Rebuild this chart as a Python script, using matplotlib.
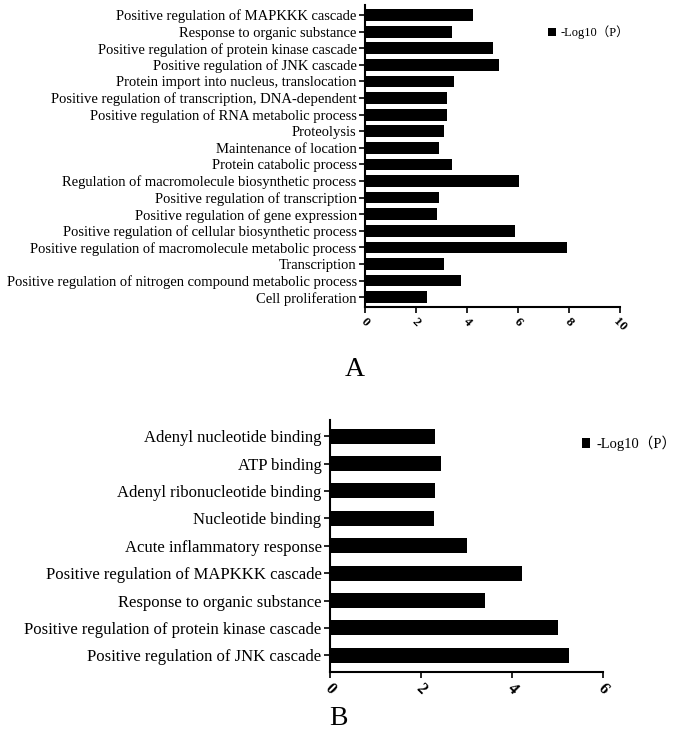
import matplotlib.pyplot as plt
import numpy as np

plt.rcParams['font.family'] = ['Liberation Serif', 'Noto Sans CJK SC']

# Panel A data (top to bottom)
terms_a = [
    'Positive regulation of MAPKKK cascade',
    'Response to organic substance',
    'Positive regulation of protein kinase cascade',
    'Positive regulation of JNK cascade',
    'Protein import into nucleus, translocation',
    'Positive regulation of transcription, DNA-dependent',
    'Positive regulation of RNA metabolic process',
    'Proteolysis',
    'Maintenance of location',
    'Protein catabolic process',
    'Regulation of macromolecule biosynthetic process',
    'Positive regulation of transcription',
    'Positive regulation of gene expression',
    'Positive regulation of cellular biosynthetic process',
    'Positive regulation of macromolecule metabolic process',
    'Transcription',
    'Positive regulation of nitrogen compound metabolic process',
    'Cell proliferation',
]
values_a = [4.23, 3.42, 5.03, 5.25, 3.49, 3.2, 3.2, 3.1, 2.9, 3.4,
            6.03, 2.9, 2.84, 5.87, 7.92, 3.1, 3.75, 2.45]

# Panel B data (top to bottom)
terms_b = [
    'Adenyl nucleotide binding',
    'ATP binding',
    'Adenyl ribonucleotide binding',
    'Nucleotide binding',
    'Acute inflammatory response',
    'Positive regulation of MAPKKK cascade',
    'Response to organic substance',
    'Positive regulation of protein kinase cascade',
    'Positive regulation of JNK cascade',
]
values_b = [2.3, 2.45, 2.3, 2.29, 3.01, 4.22, 3.4, 5.01, 5.25]

fig = plt.figure(figsize=(6.76, 7.35), dpi=100)
ax1 = fig.add_axes([0.540, 0.582, 0.377, 0.411])
ax2 = fig.add_axes([0.488, 0.086, 0.404, 0.343])


def draw(ax, terms, vals, xmax, step, bh, fs, tfs, legfs, legpos):
    y = np.arange(len(terms))[::-1]
    bars = ax.barh(y, vals, height=bh, color='black', label='-Log10（P）')
    ax.set_yticks(y)
    ax.set_yticklabels(terms, fontsize=fs)
    ax.set_ylim(-0.6, len(terms) - 0.4)
    ax.set_xlim(0, xmax)
    ax.set_xticks(np.arange(0, xmax + 1, step))
    for lab in ax.get_xticklabels():
        lab.set_rotation(-45)
        lab.set_ha('center')
        lab.set_fontsize(tfs)
        lab.set_fontweight('bold')
    for s in ['top', 'right']:
        ax.spines[s].set_visible(False)
    for s in ['left', 'bottom']:
        ax.spines[s].set_linewidth(1.5)
    ax.tick_params(width=1.2, length=4, pad=2)
    ax.legend(handles=[bars], loc='upper left', bbox_to_anchor=legpos,
              frameon=False, fontsize=legfs, handlelength=0.6,
              handleheight=0.6, handletextpad=0.4, borderaxespad=0)


draw(ax1, terms_a, values_a, 10, 2, 0.7, 10.5, 9.5, 9, (0.70, 0.95))
draw(ax2, terms_b, values_b, 6, 2, 0.55, 12, 11.5, 10.5, (0.90, 0.96))

fig.text(0.525, 0.497, 'A', fontsize=20, ha='center', va='center')
fig.text(0.500, 0.023, 'B', fontsize=20, ha='center', va='center')

fig.savefig('out.png', dpi=100, facecolor='white')
